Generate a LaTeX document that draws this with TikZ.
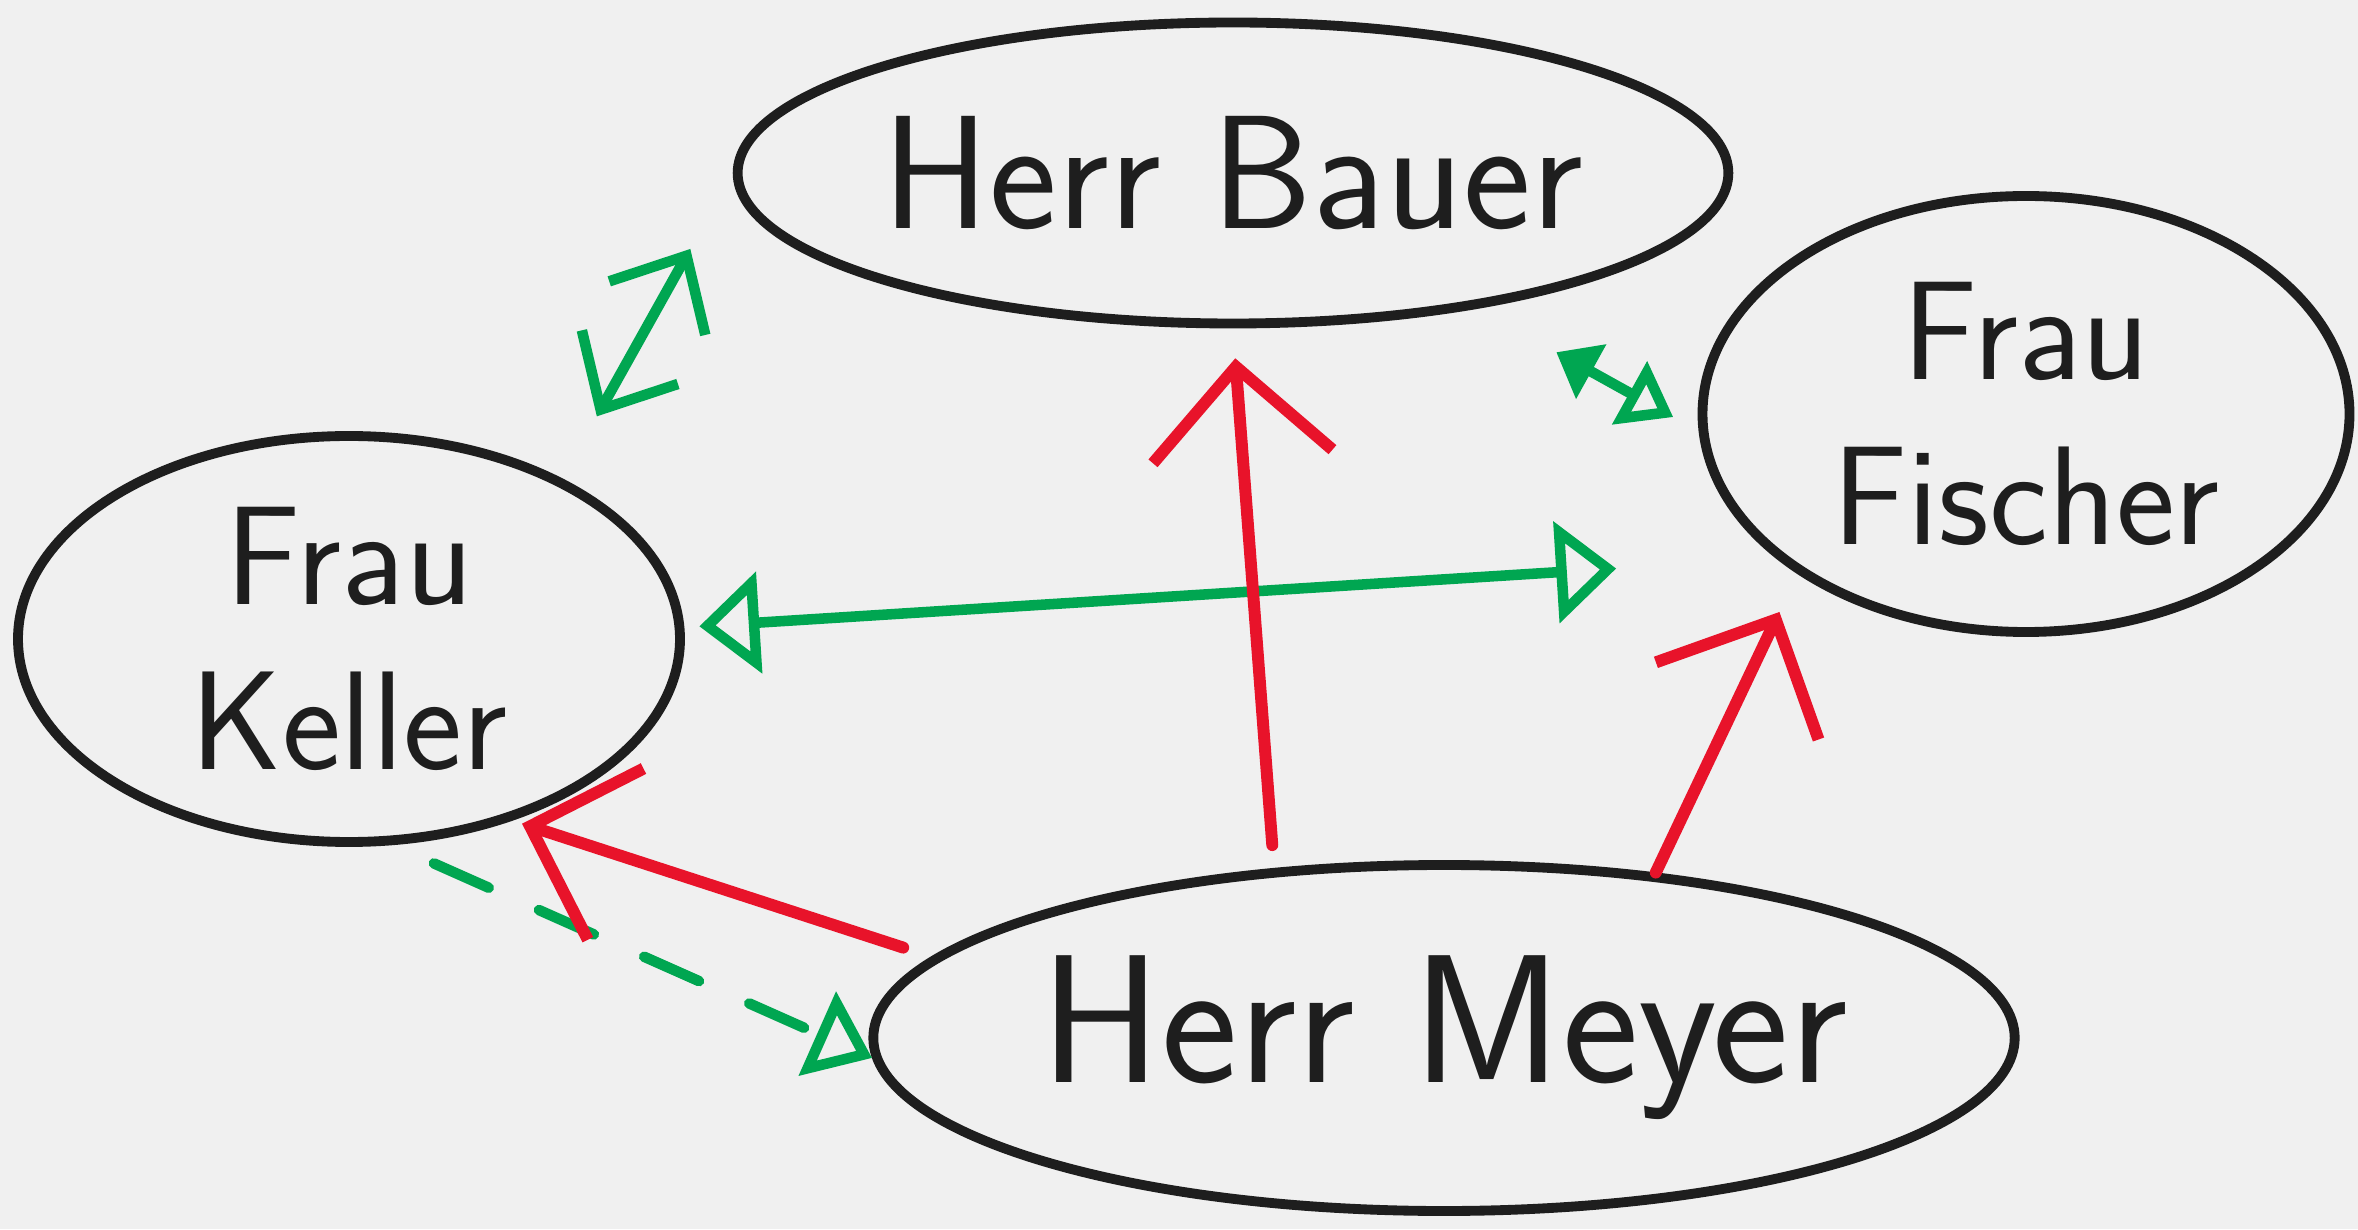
\documentclass[tikz,border=0pt]{standalone}
\usepackage{tikz}
\usetikzlibrary{arrows.meta,positioning,shapes.geometric}

\definecolor{ink}{HTML}{1E1E1E}
\definecolor{pen green}{HTML}{00A651}
\definecolor{pen red}{HTML}{E8132A}
\definecolor{paper}{HTML}{F0F0F0}

\begin{document}
\begin{tikzpicture}[on grid,
  person/.style={ellipse,draw=ink,line width=2.8pt,inner sep=0pt,text=ink,align=center,
    font=\sffamily\fontsize{46}{52}\selectfont},
  pair/.style={person,font=\sffamily\fontsize{40}{47}\selectfont},
  link/.style={draw=pen green,line width=3pt,line cap=round},
  gboth/.style={link,{Straight Barb[length=6mm,width=11mm]}-{Straight Barb[length=6mm,width=11mm]}},
  tboth/.style={link,{Triangle[open,length=6mm,width=10mm]}-{Triangle[open,length=6mm,width=10mm]}},
  push/.style={draw=pen red,line width=3.4pt,line cap=round,-{Straight Barb[length=9mm,width=18mm]}}]
  \fill[paper] (0,0) rectangle (23.58,12.29);
  \useasboundingbox (0,0) rectangle (23.58,12.29);

  \node[person,minimum width=11.13cm,minimum height=3.46cm,
    font=\sffamily\fontsize{52}{50}\selectfont] (meyer) at (14.44,1.91) {Herr Meyer};
  \node[person,minimum width=9.63cm,minimum height=3.01cm] (bauer)
    [above left=8.65cm and 2.11cm of meyer] {Herr Bauer};
  \node[pair,minimum width=6.47cm,minimum height=4.36cm] (fischer)
    [above right=6.24cm and 5.82cm of meyer] {Frau\\Fischer};
  \node[pair,minimum width=6.62cm,minimum height=4.06cm] (keller)
    [above left=3.99cm and 10.95cm of meyer] {Frau\\Keller};

  % green links
  \path
  (keller.37) edge[gboth,shorten <=7.1mm,shorten >=8.7mm] (bauer.west)
  (bauer.-29) edge[tboth,{Triangle[length=4mm,width=6mm]}-{Triangle[open,length=5mm,width=7mm]},
    shorten <=9mm,shorten >=2.9mm] (fischer.183)
  (keller.2) edge[tboth,shorten <=1.5mm,shorten >=16mm] (fischer.210)
  (keller.-78) edge[link,dash pattern=on 6mm off 5.5mm,-{Triangle[open,length=6mm,width=9mm]},
    shorten <=4.5mm] (meyer.182);

  % red pushes
  \path
  (meyer.171) edge[push,shorten <=3mm,shorten >=1mm] (keller.-48)
  (meyer.135) edge[push,shorten <=2.3mm,shorten >=3mm] (bauer.south)
  (meyer.38) edge[push,shorten >=4.2mm] (fischer.215);
\end{tikzpicture}
\end{document}
